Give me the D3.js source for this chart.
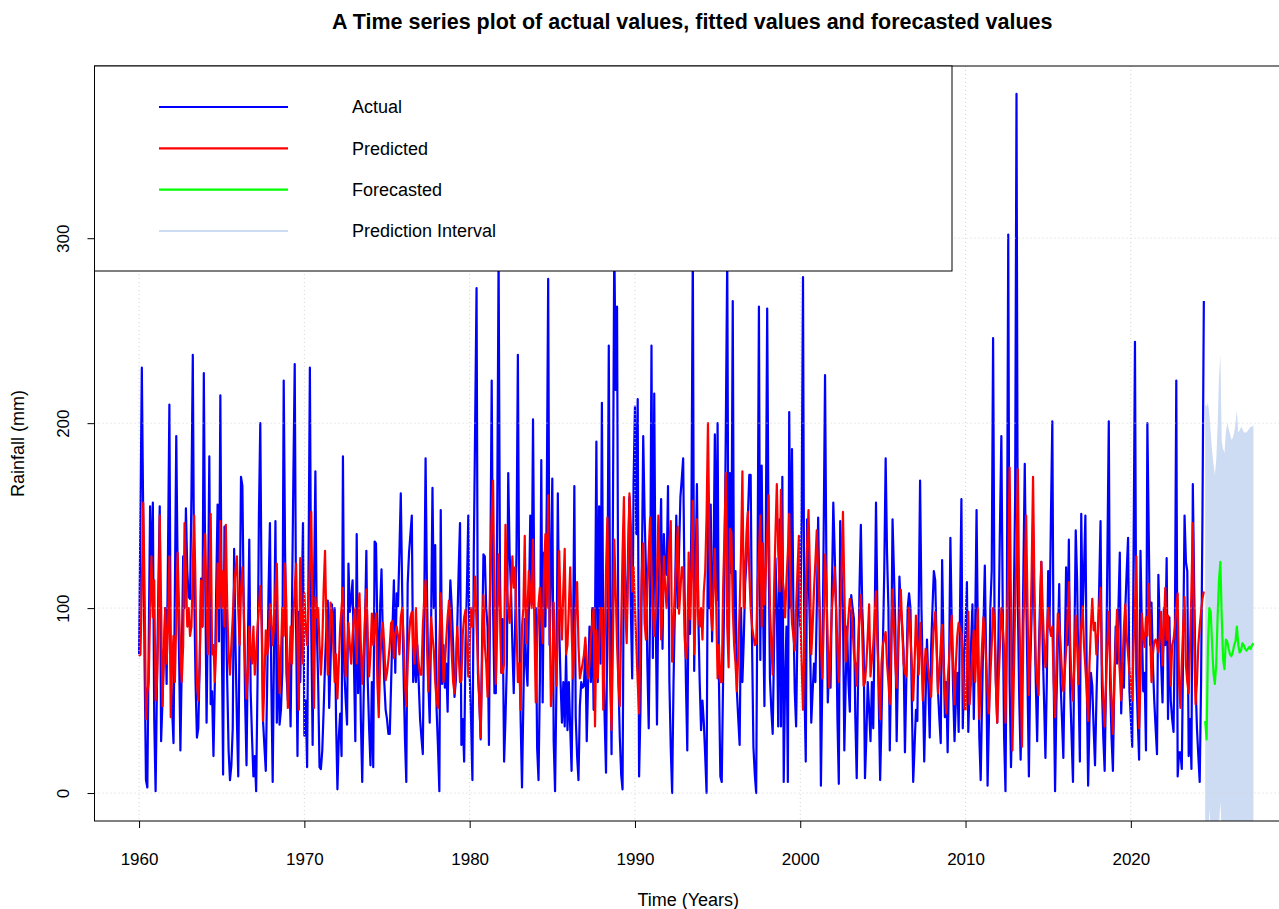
<!DOCTYPE html>
<html>
<head>
<meta charset="utf-8">
<script src="https://cdn.jsdelivr.net/npm/d3@7"></script>
<style>
  body { margin: 0; background: #ffffff; }
  svg { display: block; }
  text { font-family: "Liberation Sans", Arial, Helvetica, sans-serif; fill: #000; }
</style>
</head>
<body>
<svg id="chart" width="1279" height="909"></svg>
<script>
// Monthly rainfall series, January 1960 onwards (mm)
const startYear = 1960;

const actual = [
  75,150,230,150,70,7,3,80,155,106,157,40,
  1,60,110,155,28,50,75,100,59,130,210,70,
  45,27,110,193,120,77,23,70,128,100,154,120,
  106,105,160,237,110,60,30,35,70,116,90,227,
  120,38,100,182,48,55,20,60,110,156,82,215,
  90,10,144,100,60,23,7,15,35,132,80,40,
  9,90,171,166,100,50,15,80,137,55,30,9,
  20,1,60,150,200,100,39,25,12,60,110,146,
  60,6,80,147,38,80,37,45,66,223,130,65,
  50,70,36,100,170,232,90,20,98,60,100,146,
  31,50,14,120,230,90,26,110,174,90,60,14,
  13,23,45,70,90,104,46,70,102,85,100,40,
  2,30,43,20,182,66,50,37,124,98,105,115,
  70,28,140,54,96,40,6,50,90,131,61,35,
  15,60,14,136,135,90,59,100,121,83,60,45,
  40,32,32,60,90,115,65,108,101,130,162,110,
  65,30,6,113,130,140,150,60,79,60,80,60,
  40,30,21,100,181,110,60,38,90,165,100,134,
  45,25,1,153,59,80,57,70,44,90,115,100,
  80,52,61,90,120,146,26,40,17,81,110,150,
  65,40,7,130,200,273,65,50,29,80,129,128,
  100,90,26,120,223,100,54,54,150,290,120,65,
  94,17,40,70,173,130,110,80,54,90,130,237,
  100,40,3,50,94,70,58,100,150,102,202,100,
  100,24,7,62,180,49,130,90,160,278,80,120,
  170,28,1,58,162,90,60,38,60,36,75,34,
  60,35,12,75,166,41,20,7,47,60,57,58,
  80,28,60,90,60,100,45,90,190,60,155,70,
  211,80,40,11,100,242,90,21,150,300,218,263,
  62,30,10,2,140,110,90,130,160,100,62,167,
  209,140,213,9,45,120,193,150,120,70,35,100,
  242,73,216,100,37,110,130,159,78,140,120,118,
  166,60,24,0,60,100,150,100,130,160,170,181,
  110,60,23,112,86,150,295,66,120,167,96,60,
  34,50,38,20,0,156,100,156,82,120,194,104,
  200,60,9,6,62,120,200,290,83,173,119,266,
  81,120,55,40,26,100,60,83,113,126,150,172,
  172,82,25,10,0,120,263,72,177,100,47,140,
  262,137,62,45,32,80,127,101,36,148,36,171,
  6,60,90,6,206,100,186,100,55,36,90,120,
  90,150,279,60,17,148,120,90,38,55,70,60,
  100,149,100,4,60,140,226,120,49,70,57,110,
  157,130,100,40,5,147,120,100,23,60,90,60,
  44,107,100,94,40,8,62,110,145,100,80,8,
  30,60,45,28,60,35,90,157,100,50,7,40,
  80,120,181,130,100,23,70,148,120,91,28,70,
  117,100,90,77,22,60,100,108,100,50,6,25,
  45,39,100,169,100,60,17,50,83,60,30,78,
  100,120,115,80,55,40,27,126,80,41,60,22,
  65,138,90,55,28,50,65,33,100,159,35,70,
  90,114,33,60,80,102,40,90,153,80,30,7,
  50,90,123,70,4,40,100,120,246,100,60,38,
  90,145,193,100,30,1,100,302,60,14,50,100,
  160,378,100,50,18,60,120,178,110,60,9,70,
  97,145,97,60,28,70,100,125,80,50,19,60,
  120,90,150,201,60,1,50,80,113,60,40,19,
  70,122,80,137,55,30,6,80,142,115,60,17,
  151,95,120,150,60,4,40,65,58,35,15,50,
  80,110,147,58,30,12,60,130,201,58,30,12,
  60,90,70,100,130,43,70,57,100,120,138,55,
  40,25,130,244,65,40,18,131,90,55,65,23,
  200,140,80,103,70,50,35,21,118,90,70,49,
  100,80,127,40,95,50,40,33,90,223,9,22,
  22,13,80,150,125,120,20,40,13,167,110,60,
  35,20,6,60,150,266
];

const fitted = [
  74,75,110,157,110,40,55,60,100,128,95,115,
  50,60,90,150,100,47,75,100,70,90,128,41,
  70,85,60,95,130,100,75,60,80,146,120,90,
  100,85,90,122,150,110,60,50,70,115,90,127,
  140,100,75,110,151,75,80,60,80,124,100,147,
  100,120,90,145,100,75,64,80,95,112,120,128,
  100,80,110,122,100,70,51,65,90,77,70,90,
  64,75,90,100,112,90,39,60,88,75,80,102,
  95,80,90,110,124,80,54,75,100,85,124,100,
  46,65,90,70,95,110,124,80,45,127,100,70,
  108,90,80,100,125,152,90,46,106,95,100,80,
  64,80,110,131,90,64,80,103,97,80,60,75,
  51,70,90,100,111,85,63,75,92,80,70,85,
  95,100,70,95,108,80,59,75,95,110,85,63,
  75,97,80,90,97,60,41,70,85,92,80,61,
  65,72,80,92,93,73,86,90,85,75,95,100,
  85,60,47,70,85,95,98,80,70,100,78,70,
  64,64,90,105,115,80,55,70,95,85,77,60,
  50,46,80,108,90,60,70,83,95,104,95,75,
  60,54,70,90,75,60,61,86,95,99,80,63,
  80,100,90,100,117,90,70,50,30,70,107,80,
  70,52,80,120,150,169,100,59,90,129,100,65,
  65,70,145,111,100,92,110,128,111,122,90,60,
  70,45,90,100,139,81,100,120,110,100,137,90,
  49,80,102,111,95,81,120,140,100,161,100,47,
  60,103,75,58,90,131,100,83,110,132,75,80,
  100,122,90,62,80,100,114,80,62,66,70,75,
  84,70,62,70,85,92,100,36,88,62,80,100,
  100,45,80,120,149,100,60,34,80,137,109,80,
  60,47,90,130,160,100,81,120,162,145,109,122,
  100,80,60,43,90,120,135,92,83,110,130,149,
  120,100,85,100,117,150,120,83,100,128,110,100,
  120,135,147,71,90,110,125,144,97,110,122,122,
  85,73,80,130,94,120,158,75,100,148,100,90,
  100,83,109,120,150,200,140,100,88,110,132,100,
  62,80,60,60,110,140,173,90,68,143,141,100,
  80,70,55,75,100,130,174,100,120,141,152,120,
  100,90,85,80,81,110,130,150,90,135,102,120,
  140,161,100,80,64,110,140,167,131,109,164,117,
  110,95,115,130,151,110,92,85,77,100,120,139,
  100,70,45,80,110,134,153,120,75,90,110,125,
  142,120,100,80,62,90,129,110,80,57,80,100,
  110,122,100,80,60,90,120,152,110,71,85,95,
  105,100,90,75,70,58,80,96,107,85,58,60,
  70,85,102,63,72,80,95,109,80,60,40,70,
  80,84,87,70,60,48,80,110,90,70,57,80,
  95,110,90,70,65,63,85,100,85,70,50,70,
  96,80,64,92,75,50,65,78,72,67,60,52,
  75,90,98,80,54,65,80,91,70,55,43,60,
  72,85,96,70,48,70,85,92,88,86,70,46,
  45,70,98,48,60,75,88,60,80,100,40,60,
  80,95,85,70,55,43,63,80,100,93,60,38,
  60,80,100,90,78,38,88,120,176,100,23,60,
  100,130,175,100,60,25,90,120,150,100,53,80,
  120,171,110,70,60,53,90,125,100,80,68,85,
  100,90,85,90,60,41,70,97,92,80,65,55,
  65,77,95,114,80,60,50,70,96,80,59,80,
  90,101,80,68,55,39,70,90,105,88,92,75,
  85,100,111,70,50,36,60,80,98,70,50,32,
  60,80,99,80,65,50,70,90,102,85,75,65,
  60,50,80,100,128,70,35,60,97,85,79,95,
  85,113,90,60,75,82,83,80,76,85,98,69,
  90,111,83,96,80,58,80,83,90,100,108,60,
  46,70,90,106,69,60,54,80,110,146,80,48,
  60,80,90,98,105,109
];

// 36-month forecast with its prediction interval
const forecast = [39,29,80,100,98,80,65,59,70,95,115,125,
                  95,72,67,83,82,78,75,74,76,80,82,90,
                  80,76,77,81,80,78,77,78,79,78,80,81];
const piUpper  = [210,209,211,205,195,185,178,172,180,198,225,237,
                  190,186,184,195,200,197,194,191,192,195,200,207,
                  195,196,198,197,195,195,195,196,197,198,198,199];
const piLower  = [-130,-150,-50,-8,-20,-40,-50,-55,-45,-25,-18,-5,
                  -20,-40,-50,-30,-32,-38,-42,-44,-40,-35,-30,-22,
                  -35,-42,-40,-35,-36,-38,-40,-40,-39,-40,-38,-37];

const xTicks = [1960, 1970, 1980, 1990, 2000, 2010, 2020];
const yTicks = [0, 100, 200, 300];
const legendLabels = ["Actual", "Predicted", "Forecasted", "Prediction Interval"];
const legendColors = ["#0000ff", "#ff0000", "#00ff00", "#cddcf2"];

const titleText = "A Time series plot of actual values, fitted values and forecasted values";
const xLabel = "Time (Years)";
const yLabel = "Rainfall (mm)";

// ---- layout ----
const svg = d3.select("#chart");
const plot = { left: 94.5, right: 1298, top: 66, bottom: 821 };
const fontFamily = '"Liberation Sans", Arial, sans-serif';
const labelSize = 18;
const tickSize = 17;

const actualPts = actual.map((v, i) => ({ t: startYear + i / 12, v }));
const fittedPts = fitted.map((v, i) => ({ t: startYear + i / 12, v }));
const fcPts = forecast.map((v, k) => {
  const t = startYear + (actual.length + k) / 12;
  return { t, v, lo: piLower[k], hi: piUpper[k] };
});

// axis ranges padded by 4% on each side
const pad = (lo, hi) => { const d = (hi - lo) * 0.04; return [lo - d, hi + d]; };
const tRange = pad(actualPts[0].t, fcPts[fcPts.length - 1].t);
const vRange = pad(d3.min(actual), d3.max(actual));

const x = d3.scaleLinear().domain(tRange).range([plot.left, plot.right]);
const y = d3.scaleLinear().domain(vRange).range([plot.bottom, plot.top]);

svg.append("rect").attr("width", 1279).attr("height", 909).attr("fill", "#fff");

svg.append("defs").append("clipPath").attr("id", "plotClip")
  .append("rect")
  .attr("x", plot.left).attr("y", plot.top)
  .attr("width", plot.right - plot.left).attr("height", plot.bottom - plot.top);

const g = svg.append("g").attr("clip-path", "url(#plotClip)");

const line = d3.line().x(d => x(d.t)).y(d => y(d.v));

g.append("path").datum(actualPts)
  .attr("d", line).attr("fill", "none")
  .attr("stroke", legendColors[0]).attr("stroke-width", 2.2)
  .attr("stroke-linejoin", "round");

g.append("path").datum(fittedPts)
  .attr("d", line).attr("fill", "none")
  .attr("stroke", legendColors[1]).attr("stroke-width", 2.2)
  .attr("stroke-linejoin", "round");

const band = d3.area().x(d => x(d.t)).y0(d => y(d.lo)).y1(d => y(d.hi));
g.append("path").datum(fcPts)
  .attr("d", band).attr("fill", legendColors[3]).attr("stroke", "none");

g.append("path").datum(fcPts)
  .attr("d", line).attr("fill", "none")
  .attr("stroke", legendColors[2]).attr("stroke-width", 2.2)
  .attr("stroke-linejoin", "round");

// dotted grid on top of the series
const grid = g.append("g").attr("stroke", "#d3d3d3").attr("stroke-width", 1)
  .attr("stroke-dasharray", "1,3");
grid.selectAll("line.v").data(xTicks).join("line")
  .attr("x1", d => x(d)).attr("x2", d => x(d))
  .attr("y1", plot.top).attr("y2", plot.bottom);
grid.selectAll("line.h").data(yTicks).join("line")
  .attr("y1", d => y(d)).attr("y2", d => y(d))
  .attr("x1", plot.left).attr("x2", plot.right);

// plot frame
svg.append("rect")
  .attr("x", plot.left).attr("y", plot.top)
  .attr("width", plot.right - plot.left).attr("height", plot.bottom - plot.top)
  .attr("fill", "none").attr("stroke", "#000").attr("stroke-width", 1);

// axes
const xAxis = d3.axisBottom(x).tickValues(xTicks).tickSize(7).tickPadding(37)
  .tickFormat(d3.format("d"));
const xg = svg.append("g").attr("transform", `translate(0,${plot.bottom})`).call(xAxis);
xg.select(".domain").remove();
xg.selectAll("text").attr("dy", null)
  .style("font-size", tickSize + "px").style("font-family", fontFamily);

const yAxis = d3.axisLeft(y).tickValues(yTicks).tickSize(7).tickFormat(d3.format("d"));
const yg = svg.append("g").attr("transform", `translate(${plot.left},0)`).call(yAxis);
yg.select(".domain").remove();
yg.selectAll("text")
  .attr("x", null).attr("dy", null)
  .attr("text-anchor", "middle")
  .attr("transform", "translate(-26,0) rotate(-90)")
  .style("font-size", tickSize + "px").style("font-family", fontFamily);

// title and axis labels
const midX = (plot.left + plot.right) / 2;
svg.append("text").attr("x", midX - 4).attr("y", 29)
  .attr("text-anchor", "middle").style("font-weight", "bold").style("font-size", "21.5px")
  .text(titleText);
svg.append("text").attr("x", midX - 8).attr("y", 906)
  .attr("text-anchor", "middle").style("font-size", labelSize + "px").text(xLabel);
svg.append("text")
  .attr("transform", `translate(24,${(plot.top + plot.bottom) / 2}) rotate(-90)`)
  .attr("text-anchor", "middle").style("font-size", labelSize + "px").text(yLabel);

// legend
const lg = svg.append("g");
lg.append("rect").attr("x", plot.left).attr("y", plot.top)
  .attr("width", 952 - plot.left).attr("height", 271 - plot.top)
  .attr("fill", "#fff").attr("stroke", "#000").attr("stroke-width", 1);
const rowY = d3.scalePoint().domain(legendLabels).range([107, 231]);
const items = lg.selectAll("g.item").data(legendLabels).join("g")
  .attr("transform", d => `translate(0,${rowY(d)})`);
items.append("line").attr("x1", 159).attr("x2", 288).attr("y1", 0).attr("y2", 0)
  .attr("stroke", (d, i) => legendColors[i]).attr("stroke-width", 2.2);
items.append("text").attr("x", 352).attr("dy", "0.35em")
  .style("font-size", labelSize + "px").text(d => d);
</script>
</body>
</html>
